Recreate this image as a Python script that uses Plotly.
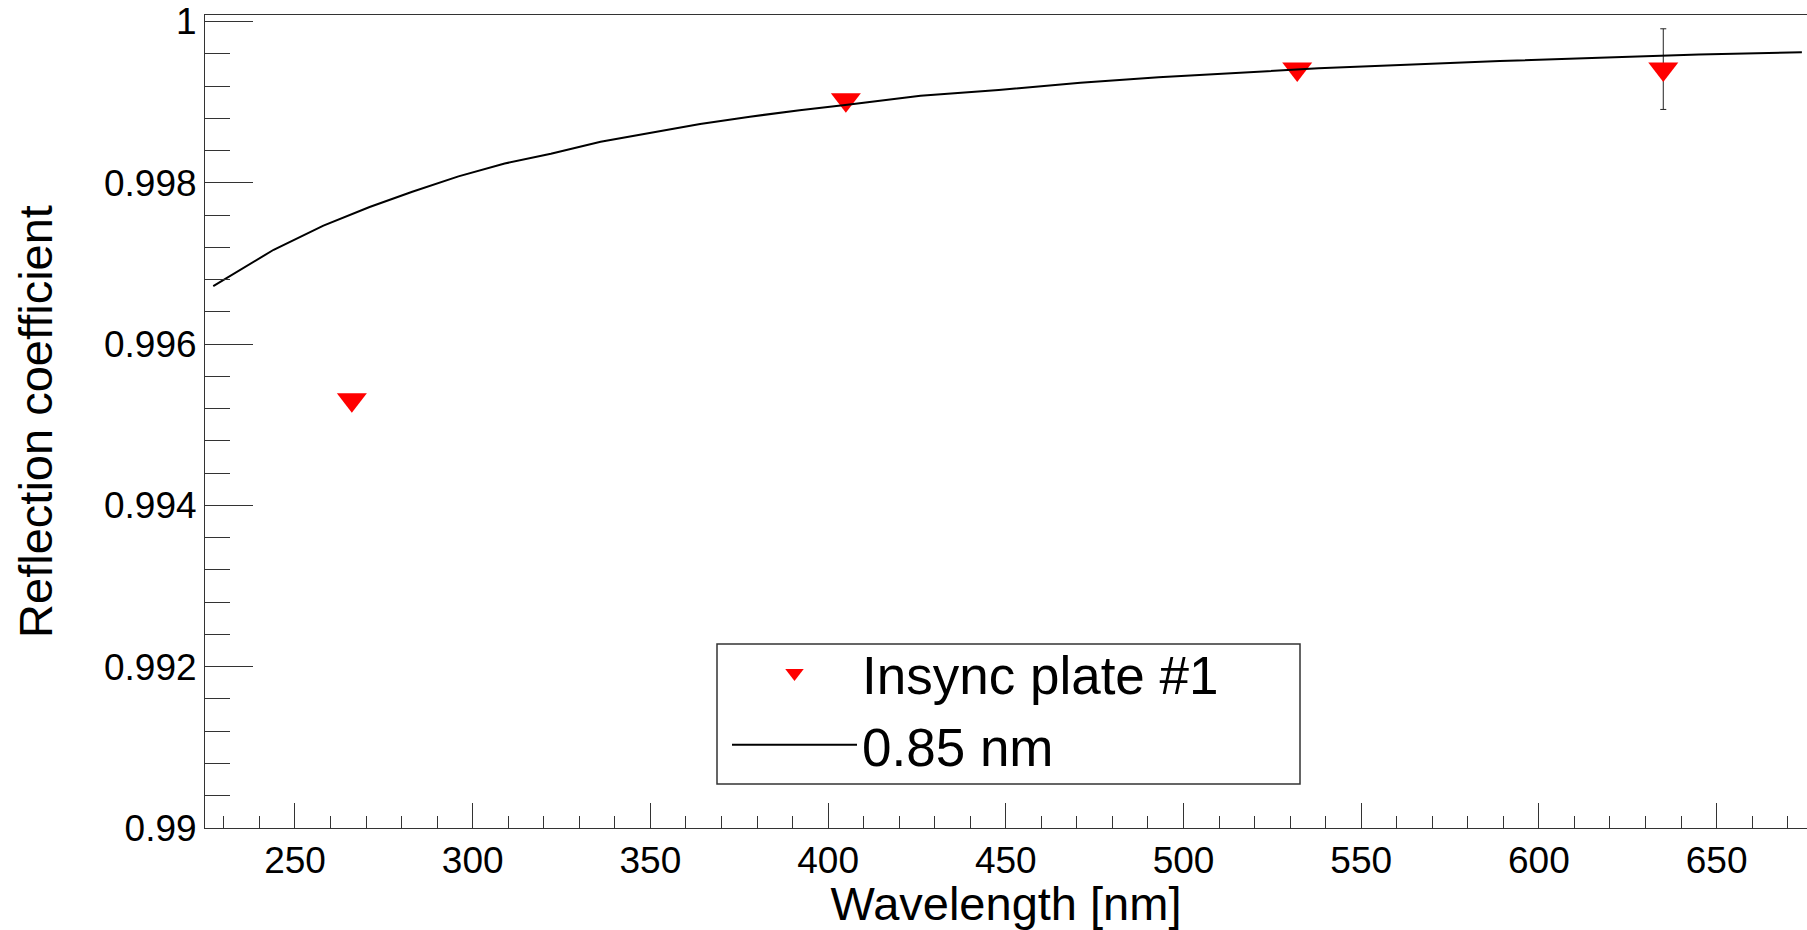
import plotly.graph_objects as go

meas_wavelength = [266, 405, 532, 635]
meas_reflection = [0.99531, 0.99903, 0.99941, 0.99941]
meas_error = [0.0, 0.0, 0.0, 0.0005]

# ---- model curve, 0.85 nm roughness ----
curve_wavelength = [227, 239, 244, 258, 271, 283, 296, 309, 322, 336, 350, 364,
                    378, 392, 406, 426, 448, 471, 493, 516, 538, 561, 589, 617,
                    645, 674]
curve_reflection = [0.99672, 0.99704, 0.99717, 0.99747, 0.99770, 0.99789, 0.99808,
                    0.99824, 0.99836, 0.99851, 0.99862, 0.99873, 0.99882, 0.99890,
                    0.99897, 0.99908, 0.99915, 0.99924, 0.99931, 0.99937, 0.99942,
                    0.99946, 0.99951, 0.99955, 0.99959, 0.99962]

# ---- axis ticks ----
y_tickvals = [0.99, 0.992, 0.994, 0.996, 0.998, 1.0]
y_ticktext = ["0.99", "0.992", "0.994", "0.996", "0.998", "1"]
x_tickvals = [250, 300, 350, 400, 450, 500, 550, 600, 650]
x_ticktext = ["250", "300", "350", "400", "450", "500", "550", "600", "650"]

FONT = "Liberation Sans, Arial, Helvetica, sans-serif"
AX = "#333333"

fig = go.Figure()

fig.add_trace(go.Scatter(
    x=meas_wavelength, y=meas_reflection, mode="markers",
    name="Insync plate #1",
    marker=dict(symbol="triangle-down", size=26, color="#ff0000", line=dict(width=0)),
    error_y=dict(type="data", array=meas_error, visible=True, color="#222222",
                 thickness=1, width=3),
))
fig.add_trace(go.Scatter(
    x=curve_wavelength, y=curve_reflection, mode="lines",
    name="0.85 nm", line=dict(color="black", width=2),
))

W, H = 1807, 930
ml, mr, mt, mb = 205, 0, 15, 102
pw, ph = W - ml - mr, H - mt - mb

def px_x(p):
    return (p - ml) / pw

def px_y(p):
    return (H - mb - p) / ph

fig.update_layout(
    width=W, height=H,
    margin=dict(l=ml, r=mr, t=mt, b=mb, pad=0),
    paper_bgcolor="white", plot_bgcolor="white",
    font=dict(family=FONT, color="black", size=37),
    showlegend=True,
    legend=dict(
        x=px_x(727), y=px_y(632), xanchor="left", yanchor="top",
        bgcolor="rgba(0,0,0,0)", borderwidth=0,
        font=dict(family=FONT, size=53, color="black"),
        itemwidth=125, tracegroupgap=0,
    ),
    shapes=[dict(type="rect", xref="paper", yref="paper",
                 x0=px_x(717), x1=px_x(1300), y0=px_y(784), y1=px_y(644),
                 line=dict(color=AX, width=1.5), fillcolor="white", layer="below")],
    xaxis=dict(
        range=[224.68, 675.44], showgrid=False, zeroline=False,
        showline=True, linecolor=AX, linewidth=1, mirror=True,
        tickmode="array", tickvals=x_tickvals, ticktext=x_ticktext,
        ticks="inside", ticklen=25, tickcolor=AX, tickwidth=1,
        minor=dict(tickmode="linear", tick0=0, dtick=10, ticks="inside",
                   ticklen=12, tickcolor=AX, tickwidth=1, showgrid=False),
        tickfont=dict(family=FONT, size=37),
        title=dict(text="Wavelength [nm]", font=dict(family=FONT, size=47), standoff=8),
    ),
    yaxis=dict(
        range=[0.99, 1.000081], showgrid=False, zeroline=False,
        showline=True, linecolor=AX, linewidth=1, mirror=True,
        tickmode="array", tickvals=y_tickvals, ticktext=y_ticktext,
        ticks="inside", ticklen=48, tickcolor=AX, tickwidth=1,
        minor=dict(tickmode="linear", tick0=0.99, dtick=0.0004, ticks="inside",
                   ticklen=25, tickcolor=AX, tickwidth=1, showgrid=False),
        tickfont=dict(family=FONT, size=37),
        title=dict(text="Reflection coefficient", font=dict(family=FONT, size=47), standoff=36),
    ),
)

fig.write_html("out.html")
